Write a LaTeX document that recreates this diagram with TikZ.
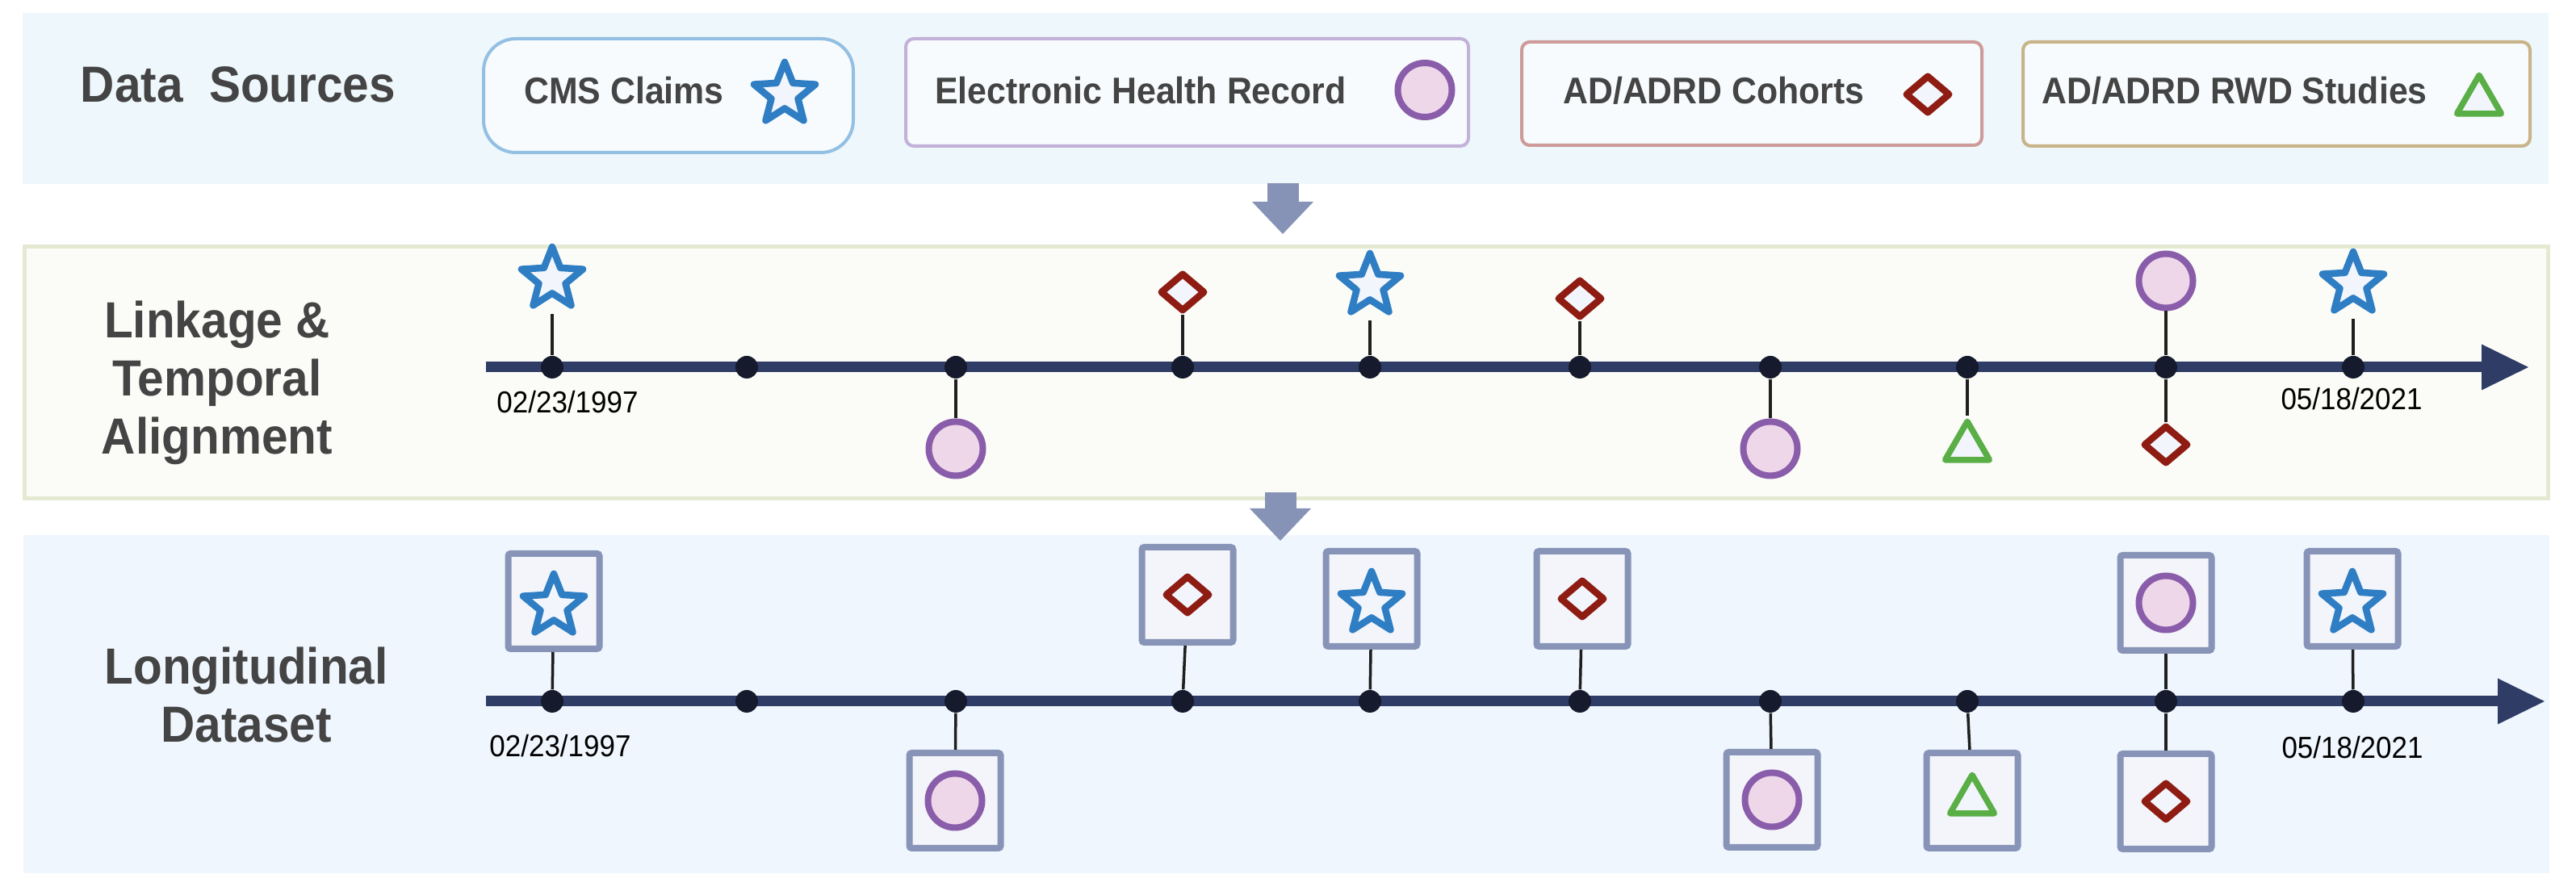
\documentclass[tikz,border=0pt]{standalone}
\usepackage{fontspec}
\setmainfont{Liberation Sans}[FakeStretch=0.93]
\usetikzlibrary{shapes.geometric,arrows.meta}

\definecolor{srcbg}{HTML}{EEF7FB}
\definecolor{linkbg}{HTML}{FBFCF7}
\definecolor{linkline}{HTML}{E4EAD1}
\definecolor{longbg}{HTML}{EFF6FE}
\definecolor{legfill}{HTML}{F7FBFD}
\definecolor{cmsline}{HTML}{93BFE3}
\definecolor{ehrline}{HTML}{C2B1D8}
\definecolor{cohline}{HTML}{CE9A9A}
\definecolor{rwdline}{HTML}{C8B488}
\definecolor{cmsblue}{HTML}{2F7EC4}
\definecolor{ehrpurple}{HTML}{8A5DAA}
\definecolor{ehrpink}{HTML}{EFD7EA}
\definecolor{cohred}{HTML}{8E1C13}
\definecolor{rwdgreen}{HTML}{5AAE46}
\definecolor{markfill}{HTML}{F2F6FC}
\definecolor{navy}{HTML}{2F3C66}
\definecolor{dotnavy}{HTML}{151B2C}
\definecolor{holdline}{HTML}{8794B7}
\definecolor{holdfill}{HTML}{F3F5FA}
\definecolor{flowgray}{HTML}{8793B6}
\definecolor{titlegray}{HTML}{444444}

\tikzset{
    srcbox/.style={rectangle, draw, rounded corners=0.1cm, line width=0.04cm, fill=legfill, inner sep=0},
    title/.style={font=\bfseries\fontsize{17.9}{20.5}\selectfont, text=titlegray, align=center},
    legtext/.style={font=\bfseries\fontsize{13.1}{15}\selectfont, text=titlegray, anchor=base},
    datetext/.style={font=\fontsize{10.7}{12}\selectfont, text=black},
    cms/.style={star, star points=5, star point ratio=2.3, minimum size=0.8cm, inner sep=0, draw=cmsblue, fill=markfill, line width=0.085cm, line join=round},
    ehr/.style={circle, minimum size=0.67cm, inner sep=0, draw=ehrpurple, fill=ehrpink, line width=0.08cm},
    coh/.style={diamond, minimum width=0.56cm, minimum height=0.48cm, inner sep=0, draw=cohred, fill=markfill, line width=0.085cm, line join=round},
    rwd/.style={regular polygon, regular polygon sides=3, minimum size=0.634cm, inner sep=0, draw=rwdgreen, fill=markfill, line width=0.075cm, line join=round},
    evt/.style={circle, minimum size=0.28cm, inner sep=0, fill=dotnavy},
    stem/.style={line width=0.035cm, draw=black!88},
    starstem/.style={stem, shorten >=0.21cm},
    timeline/.style={line width=0.13cm, draw=navy, -{Triangle[length=0.58cm,width=0.57cm,line width=0pt]}},
    holder/.style={rectangle, minimum width=1.13cm, minimum height=1.18cm, inner sep=0, draw=holdline, fill=holdfill, line width=0.08cm, rounded corners=0.03cm},
    flow/.style={line width=0.39cm, draw=flowgray, -{Triangle[length=0.40cm,width=0.76cm,line width=0pt]}},
}

\begin{document}
\begin{tikzpicture}
    \useasboundingbox (0,0) rectangle (31.91,11.04);

    % bands
    \node[fill=srcbg, minimum width=31.29cm, minimum height=2.12cm, inner sep=0] (src) at (15.925,9.82) {};
    \node[draw=linkline, line width=0.05cm, fill=linkbg, minimum width=31.26cm, minimum height=3.12cm, inner sep=0] (link) at (15.935,6.425) {};
    \node[fill=longbg, minimum width=31.29cm, minimum height=4.19cm, inner sep=0] (long) at (15.935,2.315) {};

    % titles
    \node[title, anchor=base] (srcttl) at (2.95,9.77) {Data\ \ Sources};
    \node[title] (linkttl) at (2.69,6.30) {Linkage \&\\Temporal\\Alignment};
    \node[title] (longttl) at (3.05,2.43) {Longitudinal\\Dataset};

    % legend
    \node[srcbox, draw=cmsline, rounded corners=0.4cm, minimum width=4.58cm, minimum height=1.41cm] (cmsbox) at (8.28,9.855) {};
    \node[srcbox, draw=ehrline, minimum width=6.97cm, minimum height=1.33cm] (ehrbox) at (14.705,9.895) {};
    \node[srcbox, draw=cohline, minimum width=5.70cm, minimum height=1.28cm] (cohbox) at (21.70,9.88) {};
    \node[srcbox, draw=rwdline, minimum width=6.28cm, minimum height=1.29cm] (rwdbox) at (28.20,9.875) {};
    \node[legtext] (cmstxt) at (7.73,9.75) {CMS Claims};
    \node[legtext] (ehrtxt) at (14.13,9.75) {Electronic Health Record};
    \node[legtext] (cohtxt) at (21.23,9.75) {AD/ADRD Cohorts};
    \node[legtext] (rwdtxt) at (27.68,9.75) {AD/ADRD RWD Studies};
    \node[cms] (lcms) at (9.72,9.87) {};
    \node[ehr] (lehr) at (17.65,9.925) {};
    \node[coh] (lcoh) at (23.88,9.87) {};
    \node[rwd] (lrwd) at (30.71,9.79) {};

    % arrows between bands
    \coordinate (f1s) at (15.89,8.77);
    \coordinate (f1e) at (15.89,8.14);
    \coordinate (f2s) at (15.86,4.94);
    \coordinate (f2e) at (15.86,4.34);
    \draw[flow] (f1s) -- (f1e);
    \draw[flow] (f2s) -- (f2e);

    % linkage timeline
    \coordinate (t1s) at (6.02,6.49);
    \coordinate (t1e) at (31.32,6.49);
    \draw[timeline] (t1s) -- (t1e);
    \node[evt] (a1) at (6.84,6.49) {};
    \node[evt] (a2) at (9.25,6.49) {};
    \node[evt] (a3) at (11.84,6.49) {};
    \node[evt] (a4) at (14.65,6.49) {};
    \node[evt] (a5) at (16.97,6.49) {};
    \node[evt] (a6) at (19.57,6.49) {};
    \node[evt] (a7) at (21.93,6.49) {};
    \node[evt] (a8) at (24.37,6.49) {};
    \node[evt] (a9) at (26.83,6.49) {};
    \node[evt] (a10) at (29.15,6.49) {};
    \node[cms] (ma1) at (6.84,7.58) {};
    \node[ehr] (ma3) at (11.84,5.48) {};
    \node[coh] (ma4) at (14.65,7.42) {};
    \node[cms] (ma5) at (16.97,7.50) {};
    \node[coh] (ma6) at (19.57,7.34) {};
    \node[ehr] (ma7) at (21.93,5.48) {};
    \node[rwd] (ma8) at (24.37,5.50) {};
    \node[ehr] (ma9) at (26.83,7.56) {};
    \node[coh] (mb9) at (26.83,5.53) {};
    \node[cms] (ma10) at (29.15,7.52) {};
    \draw[starstem] (a1) -- (ma1);
    \draw[stem] (a3) -- (ma3);
    \draw[stem] (a4) -- (ma4);
    \draw[starstem] (a5) -- (ma5);
    \draw[stem] (a6) -- (ma6);
    \draw[stem] (a7) -- (ma7);
    \draw[stem] (a8) -- (ma8);
    \draw[stem] (a9) -- (ma9);
    \draw[stem] (a9) -- (mb9);
    \draw[starstem] (a10) -- (ma10);
    \node[datetext] (d1) at (7.03,6.06) {02/23/1997};
    \node[datetext] (d2) at (29.13,6.10) {05/18/2021};

    % longitudinal timeline
    \coordinate (t2s) at (6.02,2.35);
    \coordinate (t2e) at (31.52,2.35);
    \draw[timeline] (t2s) -- (t2e);
    \node[evt] (b1) at (6.84,2.35) {};
    \node[evt] (b2) at (9.25,2.35) {};
    \node[evt] (b3) at (11.84,2.35) {};
    \node[evt] (b4) at (14.65,2.35) {};
    \node[evt] (b5) at (16.97,2.35) {};
    \node[evt] (b6) at (19.57,2.35) {};
    \node[evt] (b7) at (21.93,2.35) {};
    \node[evt] (b8) at (24.37,2.35) {};
    \node[evt] (b9) at (26.83,2.35) {};
    \node[evt] (b10) at (29.15,2.35) {};
    \node[holder] (ba1) at (6.86,3.59) {};
    \node[holder] (ba3) at (11.83,1.12) {};
    \node[holder] (ba4) at (14.71,3.67) {};
    \node[holder] (ba5) at (16.99,3.62) {};
    \node[holder] (ba6) at (19.60,3.62) {};
    \node[holder] (ba7) at (21.95,1.13) {};
    \node[holder] (ba8) at (24.43,1.12) {};
    \node[holder] (ba9) at (26.83,3.57) {};
    \node[holder] (bb9) at (26.83,1.11) {};
    \node[holder] (ba10) at (29.14,3.62) {};
    \node[cms] (na1) at (6.86,3.53) {};
    \node[ehr] (na3) at (ba3) {};
    \node[coh] (na4) at (ba4) {};
    \node[cms] (na5) at (16.99,3.56) {};
    \node[coh] (na6) at (ba6) {};
    \node[ehr] (na7) at (ba7) {};
    \node[rwd] (na8) at (ba8) {};
    \node[ehr] (na9) at (ba9) {};
    \node[coh] (nb9) at (bb9) {};
    \node[cms] (na10) at (29.14,3.56) {};
    \draw[stem] (b1) -- (ba1);
    \draw[stem] (b3) -- (ba3);
    \draw[stem] (b4) -- (ba4);
    \draw[stem] (b5) -- (ba5);
    \draw[stem] (b6) -- (ba6);
    \draw[stem] (b7) -- (ba7);
    \draw[stem] (b8) -- (ba8);
    \draw[stem] (b9) -- (ba9);
    \draw[stem] (b9) -- (bb9);
    \draw[stem] (b10) -- (ba10);
    \node[datetext] (d3) at (6.94,1.80) {02/23/1997};
    \node[datetext] (d4) at (29.14,1.78) {05/18/2021};
\end{tikzpicture}
\end{document}
